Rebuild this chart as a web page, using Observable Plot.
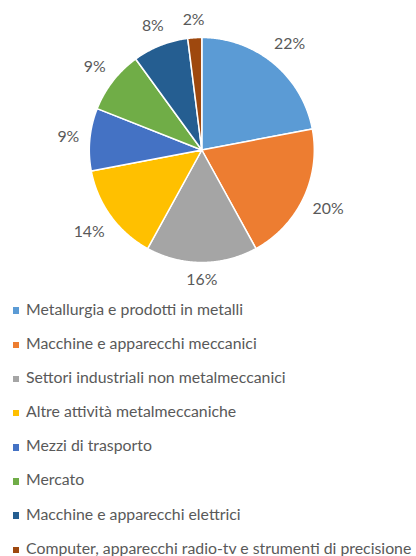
<!DOCTYPE html>
<html>
<head>
<meta charset="utf-8">
<script src="https://cdn.jsdelivr.net/npm/d3@7"></script>
<script src="https://cdn.jsdelivr.net/npm/@observablehq/plot@0.6"></script>
<style>
  html, body { margin: 0; padding: 0; background: #fff; }
  #wrap { position: relative; width: 416px; height: 556px; overflow: hidden; font-family: Lato, "Open Sans", sans-serif; }
  #legend { position: relative; width: 416px; height: 266px; }
  .row-text { position: absolute; left: 26px; white-space: nowrap; color: #595959; line-height: 1; }
  .row-mark { position: absolute; left: 12.5px; width: 6.5px; height: 6.5px; }
</style>
</head>
<body>
<div id="wrap"><div id="chart"></div><div id="legend"></div></div>
<script>
const categories = [
  "Metallurgia e prodotti in metalli",
  "Macchine e apparecchi meccanici",
  "Settori industriali non metalmeccanici",
  "Altre attività metalmeccaniche",
  "Mezzi di trasporto",
  "Mercato",
  "Macchine e apparecchi elettrici",
  "Computer, apparecchi radio-tv e strumenti di precisione"
];
const values = [22, 20, 16, 14, 9, 9, 8, 2];
const colors = ["#5B9BD5", "#ED7D31", "#A5A5A5", "#FFC000", "#4472C4", "#70AD47", "#255E91", "#9E480E"];

// layout
const W = 416, H = 290, cx = 201.3, cy = 149.5, R = 112.5;
const FONT = "Lato";

// font size fitted so the longest legend line spans like the reference
const ctx = document.createElement("canvas").getContext("2d");
function tw(s, fs) { ctx.font = `${fs}px ${FONT}`; return ctx.measureText(s).width; }
const longest = categories[categories.length - 1];
const fs = 14 * 386 / tw(longest, 14);

const total = d3.sum(values);
let acc = 0;
const slices = values.map((v, i) => {
  const a0 = acc / total * 2 * Math.PI;
  acc += v;
  const a1 = acc / total * 2 * Math.PI;
  return {cat: categories[i], v, a0, a1};
});

const pts = slices.flatMap(s => {
  const n = Math.max(2, Math.ceil((s.a1 - s.a0) / (Math.PI / 360)));
  const arr = [{cat: s.cat, x: 0, y: 0}];
  for (let k = 0; k <= n; k++) {
    const a = s.a0 + (s.a1 - s.a0) * k / n;
    arr.push({cat: s.cat, x: Math.sin(a), y: Math.cos(a)});
  }
  return arr;
});

const gap = 10, boxH = 14;
const labels = slices.map(s => {
  const m = (s.a0 + s.a1) / 2;
  const text = s.v + "%";
  const w = tw(text, fs);
  const d = 1 + (gap + (w / 2) * Math.abs(Math.sin(m)) + (boxH / 2) * Math.abs(Math.cos(m))) / R;
  return {x: d * Math.sin(m), y: d * Math.cos(m), text};
});

const chart = Plot.plot({
  width: W,
  height: H,
  margin: 0,
  x: {domain: [-cx / R, (W - cx) / R], axis: null},
  y: {domain: [-(H - cy) / R, cy / R], axis: null},
  color: {domain: categories, range: colors},
  style: {background: "#fff"},
  marks: [
    Plot.line(pts, {x: "x", y: "y", z: "cat", fill: "cat", stroke: "white", strokeWidth: 1.5, curve: "linear-closed"}),
    Plot.text(labels, {x: "x", y: "y", text: "text", fontSize: fs, fill: "#595959", fontFamily: FONT})
  ]
});
document.getElementById("chart").appendChild(chart);

// legend below the svg
const legend = document.getElementById("legend");
const base0 = 314.7 - H, step = 34.15;
categories.forEach((c, i) => {
  const b = base0 + i * step;
  const t = document.createElement("div");
  t.className = "row-text";
  t.style.fontSize = fs + "px";
  t.style.top = (b - 0.887 * fs) + "px";
  t.textContent = c;
  legend.appendChild(t);
  const mk = document.createElement("div");
  mk.className = "row-mark";
  mk.style.background = colors[i];
  mk.style.top = (b - 4 - 3.25) + "px";
  legend.appendChild(mk);
});
</script>
</body>
</html>
